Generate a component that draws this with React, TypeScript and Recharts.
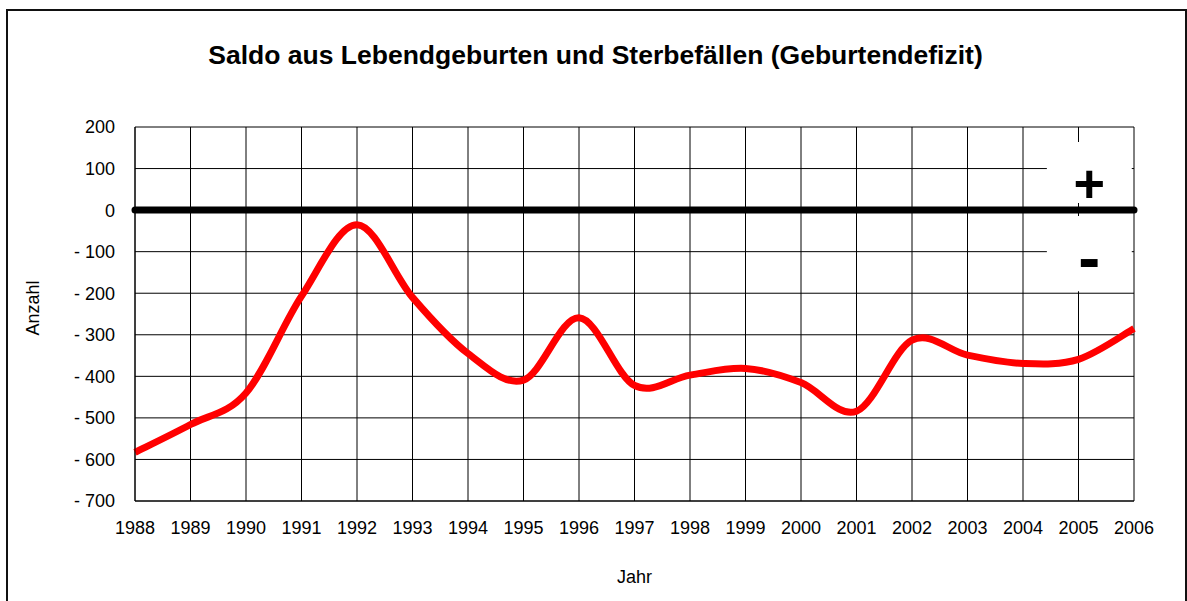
import { LineChart, Line, XAxis, YAxis, CartesianGrid, ReferenceLine, ReferenceArea } from 'recharts';

// Jahr / Saldo (Lebendgeburten - Sterbefälle)
const years = [1988, 1989, 1990, 1991, 1992, 1993, 1994, 1995, 1996, 1997, 1998, 1999, 2000, 2001, 2002, 2003, 2004, 2005, 2006];
const saldo = [-583, -516, -440, -207, -35, -210, -345, -409, -259, -422, -397, -381, -415, -484, -313, -349, -369, -359, -285];
const yTicks = [200, 100, 0, -100, -200, -300, -400, -500, -600, -700];

const data = years.map((year, i) => ({ year, saldo: saldo[i] }));

const FONT = '"Liberation Sans", Arial, Helvetica, sans-serif';

// Excel-style smoothing (Bezier, Catmull-Rom control points)
const excelSmooth = (context: any) => {
  let pts: [number, number][] = [];
  return {
    areaStart() {},
    areaEnd() {},
    lineStart() {
      pts = [];
    },
    point(x: number, y: number) {
      pts.push([+x, +y]);
    },
    lineEnd() {
      const n = pts.length;
      if (!n) return;
      context.moveTo(pts[0][0], pts[0][1]);
      for (let i = 0; i < n - 1; i++) {
        const p0 = pts[Math.max(i - 1, 0)];
        const p1 = pts[i];
        const p2 = pts[i + 1];
        const p3 = pts[Math.min(i + 2, n - 1)];
        context.bezierCurveTo(
          p1[0] + (p2[0] - p0[0]) / 6,
          p1[1] + (p2[1] - p0[1]) / 6,
          p2[0] - (p3[0] - p1[0]) / 6,
          p2[1] - (p3[1] - p1[1]) / 6,
          p2[0],
          p2[1]
        );
      }
    },
  };
};

const fmtY = (v: number) => (v < 0 ? `- ${Math.abs(v)}` : `${v}`);

const YLabel = ({ viewBox }: any) => {
  if (!viewBox) return null;
  const x = viewBox.x + 39;
  const y = viewBox.y + viewBox.height / 2 - 6;
  return (
    <text x={x} y={y} transform={`rotate(-90 ${x} ${y})`} textAnchor="middle" fill="#000" fontSize={18} fontFamily={FONT}>
      Anzahl
    </text>
  );
};

export default function App() {
  return (
    <div style={{ position: 'fixed', left: 0, top: 0, width: 1187, height: 601, background: '#fff', overflow: 'hidden', fontFamily: FONT }}>
      <div style={{ position: 'absolute', left: 6, top: 9, width: 1177, height: 700, border: '2px solid #111' }} />
      <div
        style={{
          position: 'absolute',
          left: 0,
          top: 41.5,
          width: 1191,
          textAlign: 'center',
          fontSize: 26.5,
          lineHeight: 1,
          fontWeight: 'bold',
          color: '#000',
        }}
      >
        Saldo aus Lebendgeburten und Sterbefällen (Geburtendefizit)
      </div>
      <div style={{ position: 'absolute', left: 0, top: 0 }}>
        <LineChart width={1187} height={601} data={data} margin={{ top: 127, right: 53, bottom: 20, left: 0 }}>
          <CartesianGrid stroke="#000" strokeWidth={1} />
          <XAxis
            dataKey="year"
            type="number"
            domain={[1988, 2006]}
            ticks={years}
            interval={0}
            height={80}
            tickLine={false}
            tickSize={20}
            tickMargin={0}
            axisLine={{ stroke: '#000' }}
            tick={{ fill: '#000', fontSize: 18, fontFamily: FONT }}
            label={{ value: 'Jahr', position: 'insideBottom', offset: -2, fill: '#000', fontSize: 18, fontFamily: FONT }}
          />
          <YAxis
            type="number"
            domain={[-700, 200]}
            ticks={yTicks}
            interval={0}
            width={135}
            tickLine={false}
            tickSize={20}
            tickMargin={0}
            tickFormatter={fmtY}
            axisLine={{ stroke: '#000' }}
            tick={{ fill: '#000', fontSize: 18, fontFamily: FONT }}
            label={<YLabel />}
          />
          <ReferenceArea
            x1={2004.43}
            x2={2005.96}
            y1={17}
            y2={164}
            fill="#fff"
            fillOpacity={1}
            stroke="none"
            label={{ value: '+', position: 'insideBottom', offset: 1, fontSize: 54, fontWeight: 'bold', fill: '#000', fontFamily: FONT }}
          />
          <ReferenceArea
            x1={2004.43}
            x2={2005.96}
            y1={-195}
            y2={-14}
            fill="#fff"
            fillOpacity={1}
            stroke="none"
            label={{ value: '-', position: 'insideBottom', offset: 11, fontSize: 66, fontWeight: 'bold', fill: '#000', fontFamily: FONT }}
          />
          <ReferenceLine y={0} stroke="#000" strokeWidth={7} strokeLinecap="round" />
          <Line
            dataKey="saldo"
            type={excelSmooth as any}
            stroke="#ff0000"
            strokeWidth={7}
            dot={false}
            activeDot={false}
            isAnimationActive={false}
          />
        </LineChart>
      </div>
    </div>
  );
}
